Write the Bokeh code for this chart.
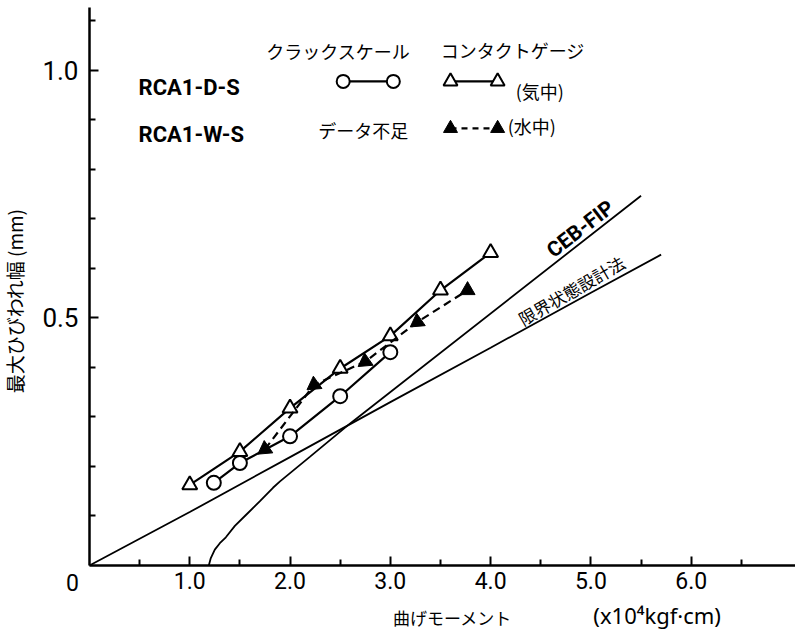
import math

from bokeh.plotting import figure
from bokeh.models import Label, FixedTicker, PrintfTickFormatter, Range1d
from bokeh.embed import file_html
from bokeh.resources import INLINE

# Bending moment (x10^4 kgf·cm) and maximum crack width (mm)
# Contact gauge, specimen RCA1-D-S (in air)
moment_gauge = [1.0, 1.5, 2.0, 2.5, 3.0, 3.5, 4.0]
width_gauge = [0.163, 0.230, 0.318, 0.398, 0.464, 0.556, 0.632]

# Crack scale, specimen RCA1-D-S
moment_scale = [1.24, 1.5, 2.0, 2.5, 3.0]
width_scale = [0.167, 0.207, 0.261, 0.342, 0.431]

# Contact gauge, specimen RCA1-W-S (in water)
moment_water = [1.75, 2.24, 2.75, 3.27, 3.77]
width_water = [0.235, 0.365, 0.412, 0.492, 0.556]

# Predicted crack width, CEB-FIP model code
moment_ceb = [1.19, 1.21, 1.25, 1.30, 1.36, 1.45, 1.555, 1.70, 1.83, 1.90, 2.2, 2.6, 5.50]
width_ceb = [0.0, 0.015, 0.032, 0.045, 0.057, 0.080, 0.101, 0.130, 0.157, 0.170, 0.220, 0.287, 0.747]

# Predicted crack width, limit state design method
moment_limit = [0.0, 1.0, 2.0, 3.0, 4.0, 5.0, 5.70]
width_limit = [0.0, 0.108, 0.219, 0.330, 0.440, 0.551, 0.628]

x_ticks = [1.0, 2.0, 3.0, 4.0, 5.0, 6.0]
x_minor = [0.5, 1.5, 2.5, 3.5, 4.5, 5.5, 6.5]
y_ticks = [0.5, 1.0]
y_minor = [0.1, 0.2, 0.3, 0.4, 0.6, 0.7, 0.8, 0.9, 1.1]

X_END = 7.04
Y_END = 1.127

INK = "black"
JP = "Noto Sans CJK JP"
LATIN = "Roboto"

# the frame fills the whole canvas; both axes are pinned at zero so that
# the titles below and left of them stay inside the drawing area
p = figure(width=795, height=634, output_backend="svg", toolbar_location=None,
           x_range=Range1d(-0.887, X_END), y_range=Range1d(-0.1394, 1.1414),
           min_border=0)
p.outline_line_color = None
p.xgrid.visible = False
p.ygrid.visible = False
p.background_fill_color = "white"
p.border_fill_color = "white"

p.xaxis.fixed_location = 0
p.yaxis.fixed_location = 0
p.xaxis.bounds = (0, X_END)
p.yaxis.bounds = (0, Y_END)

# axes: ticks point into the plot
for ax in (p.xaxis[0], p.yaxis[0]):
    ax.axis_line_width = 2.5
    ax.axis_line_color = INK
    ax.major_tick_in = 9
    ax.major_tick_out = 0
    ax.minor_tick_in = 6
    ax.minor_tick_out = 0
    ax.major_tick_line_width = 2
    ax.minor_tick_line_width = 2
    ax.major_tick_line_color = INK
    ax.minor_tick_line_color = INK
    ax.major_label_text_color = INK
    ax.major_label_text_font = LATIN
    ax.formatter = PrintfTickFormatter(format="%.1f")

p.xaxis.ticker = FixedTicker(ticks=x_ticks, minor_ticks=x_minor)
p.yaxis.ticker = FixedTicker(ticks=y_ticks, minor_ticks=y_minor)
p.xaxis.major_label_text_font_size = "23px"
p.xaxis.major_label_standoff = 7
p.yaxis.major_label_text_font_size = "26px"
p.yaxis.major_label_standoff = 11

# design predictions
p.line(moment_ceb, width_ceb, line_color=INK, line_width=1.8)
p.line(moment_limit, width_limit, line_color=INK, line_width=1.8)

# measured series
p.line(moment_gauge, width_gauge, line_color=INK, line_width=2.2)
p.scatter(moment_gauge, width_gauge, marker="triangle", size=15,
          fill_color="white", line_color=INK, line_width=2)

p.line(moment_scale, width_scale, line_color=INK, line_width=2.2)
p.scatter(moment_scale, width_scale, marker="circle", size=14,
          fill_color="white", line_color=INK, line_width=2)

water_angles = [2.18, 2.18, 2.18, 2.18, 0.0]
p.line(moment_water, width_water, line_color=INK, line_width=2.2, line_dash="8 5")
p.scatter(moment_water, width_water, marker="triangle", size=15, angle=water_angles,
          fill_color=INK, line_color=INK, line_width=1)

# legend keys
key_scale_x = [2.53, 3.03]
key_gauge_x = [3.60, 4.07]
key_dry_y = 0.978
key_wet_y = 0.883
p.line(key_scale_x, [key_dry_y] * 2, line_color=INK, line_width=2.2)
p.scatter(key_scale_x, [key_dry_y] * 2, marker="circle", size=13,
          fill_color="white", line_color=INK, line_width=2)
p.line(key_gauge_x, [key_dry_y] * 2, line_color=INK, line_width=2.2)
p.scatter(key_gauge_x, [key_dry_y] * 2, marker="triangle", size=14,
          fill_color="white", line_color=INK, line_width=2)
p.line(key_gauge_x, [key_wet_y] * 2, line_color=INK, line_width=2.2, line_dash="6 5")
p.scatter(key_gauge_x, [key_wet_y] * 2, marker="triangle", size=14,
          fill_color=INK, line_color=INK, line_width=1)


def note(text, x, y, size, font=JP, style="normal", align="center", angle=0.0):
    p.add_layout(Label(x=x, y=y, text=text, text_font=font, text_font_size=size,
                       text_font_style=style, text_align=align, text_baseline="middle",
                       text_color=INK, angle=angle))


note("クラックスケール", 2.48, 1.040, "18px")
note("コンタクトゲージ", 4.22, 1.042, "18px")
note("RCA1-D-S", 0.49, 0.966, "22px", font=LATIN, style="bold", align="left")
note("RCA1-W-S", 0.49, 0.871, "22px", font=LATIN, style="bold", align="left")
note("データ不足", 2.73, 0.879, "18px")
note("(気中)", 4.25, 0.958, "18px", align="left")
note("(水中)", 4.17, 0.887, "18px", align="left")

note("CEB-FIP", 4.895, 0.680, "21px", font=LATIN, style="bold", angle=0.658)
note("限界状態設計法", 4.805, 0.556, "17px", angle=0.524)

# origin label and axis titles
note("0", -0.17, -0.034, "23px", font=LATIN)
note("最大ひびわれ幅 (mm)", -0.745, 0.535, "19px", angle=math.pi / 2)
note("曲げモーメント", 3.62, -0.105, "17px")
note("(x10⁴kgf·cm)", 5.66, -0.101, "22px", font="Noto Sans")

open("out.html", "w").write(file_html(p, INLINE))
